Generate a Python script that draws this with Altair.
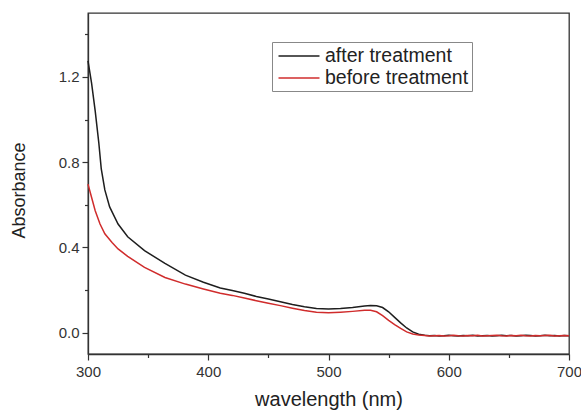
import altair as alt
import pandas as pd

# Absorption spectra (wavelength in nm, absorbance in a.u.)
wl_after = [300, 303, 306, 309, 311, 314, 318, 325, 333, 347, 364, 381, 396,
            410, 420, 430, 440, 450, 460, 470, 480, 490, 500, 510, 520, 530,
            535, 540, 545, 550, 555, 560, 565, 570, 575, 580]
after_vals = [1.275, 1.17, 1.04, 0.89, 0.77, 0.67, 0.59, 0.51, 0.45, 0.385,
              0.325, 0.27, 0.237, 0.21, 0.198, 0.185, 0.17, 0.158, 0.145, 0.132,
              0.122, 0.114, 0.111, 0.113, 0.118, 0.125, 0.127, 0.126, 0.118, 0.098,
              0.072, 0.046, 0.022, 0.004, -0.007, -0.012]

wl_before = [300, 303, 306, 310, 314, 320, 325, 333, 347, 364, 381, 396,
             410, 420, 430, 440, 450, 460, 470, 480, 490, 500, 510, 520, 530,
             535, 540, 545, 550, 555, 560, 565, 570, 575, 580]
before_vals = [0.697, 0.634, 0.572, 0.51, 0.464, 0.423, 0.393, 0.358, 0.306,
               0.259, 0.228, 0.205, 0.185, 0.175, 0.163, 0.15, 0.138, 0.127,
               0.115, 0.104, 0.096, 0.093, 0.096, 0.100, 0.105, 0.105, 0.098,
               0.08, 0.058, 0.038, 0.02, 0.004, -0.006, -0.011, -0.013]

# flat, slightly noisy baseline beyond the absorption edge
wl_tail = [584, 588, 592, 596, 600, 604, 608, 612, 616, 620, 624, 628, 632, 636,
           640, 644, 648, 652, 656, 660, 664, 668, 672, 676, 680, 684, 688, 692,
           696, 700]
after_tail = [-0.014, -0.013, -0.015, -0.014, -0.012, -0.014, -0.015, -0.013,
              -0.014, -0.012, -0.015, -0.014, -0.013, -0.015, -0.014, -0.012,
              -0.014, -0.013, -0.015, -0.014, -0.012, -0.013, -0.015, -0.014,
              -0.012, -0.014, -0.013, -0.015, -0.013, -0.014]
before_tail = [-0.015, -0.014, -0.013, -0.015, -0.014, -0.012, -0.014, -0.015,
               -0.013, -0.014, -0.012, -0.015, -0.014, -0.013, -0.012, -0.014,
               -0.015, -0.013, -0.014, -0.012, -0.014, -0.015, -0.013, -0.014,
               -0.013, -0.012, -0.015, -0.014, -0.013, -0.014]

series = ["after treatment", "before treatment"]
colors = ["#1e1e1e", "#d02c2c"]

df = pd.concat([
    pd.DataFrame({"wavelength": wl_after + wl_tail,
                  "absorbance": after_vals + after_tail,
                  "sample": series[0]}),
    pd.DataFrame({"wavelength": wl_before + wl_tail,
                  "absorbance": before_vals + before_tail,
                  "sample": series[1]}),
])

x_ticks = [300, 350, 400, 450, 500, 550, 600, 650, 700]
y_ticks = [0.0, 0.2, 0.4, 0.6, 0.8, 1.0, 1.2, 1.4]

FONT = "Liberation Sans"

chart = alt.Chart(df).mark_line(strokeWidth=1.5).encode(
    x=alt.X(
        "wavelength:Q",
        scale=alt.Scale(domain=[300, 700], nice=False, zero=False),
        axis=alt.Axis(
            title="wavelength (nm)",
            values=x_ticks,
            labelExpr="datum.value % 100 == 0 ? datum.label : ''",
            labelFlush=False,
            tickSize=alt.condition("datum.value % 100 == 0", alt.value(6), alt.value(3.5)),
            labelPadding=4,
            titlePadding=10,
            titleFontSize=20,
        ),
    ),
    y=alt.Y(
        "absorbance:Q",
        scale=alt.Scale(domain=[-0.1, 1.5], nice=False, zero=False),
        axis=alt.Axis(
            title="Absorbance",
            values=y_ticks,
            format=".1f",
            labelExpr="abs(round(datum.value * 10)) % 4 == 0 ? format(datum.value, '.1f') : ''",
            labelFlush=False,
            tickSize=alt.condition("abs(round(datum.value * 10)) % 4 == 0",
                                   alt.value(6), alt.value(3.5)),
            labelPadding=3,
            titlePadding=30,
            titleY=177,
            titleFontSize=18,
        ),
    ),
    color=alt.Color(
        "sample:N",
        scale=alt.Scale(domain=series, range=colors),
        legend=alt.Legend(
            title=None,
            orient="none",
            legendX=184,
            legendY=29,
            symbolType="M-2,0H2",
            symbolSize=420,
            symbolStrokeWidth=1.5,
            symbolOffset=13,
            labelOffset=15,
            labelFontSize=19.5,
            labelFont=FONT,
            labelColor="#222",
            rowPadding=1,
            padding=3,
            strokeColor="#888",
            fillColor="white",
        ),
    ),
    order=alt.Order("sample:N"),
).properties(
    width=481,
    height=341,
    autosize=alt.AutoSizeParams(type="none"),
    padding={"left": 88, "top": 13, "right": 12, "bottom": 56},
).configure_view(
    stroke="#333",
    strokeWidth=1.3,
).configure_axis(
    grid=False,
    domainColor="#333",
    domainWidth=1.3,
    tickColor="#333",
    tickWidth=1.2,
    labelFont=FONT,
    labelFontSize=15,
    labelColor="#333",
    titleFont=FONT,
    titleFontWeight="normal",
    titleColor="#222",
)

chart.save("out.html", embed_options={"renderer": "svg", "actions": False})
